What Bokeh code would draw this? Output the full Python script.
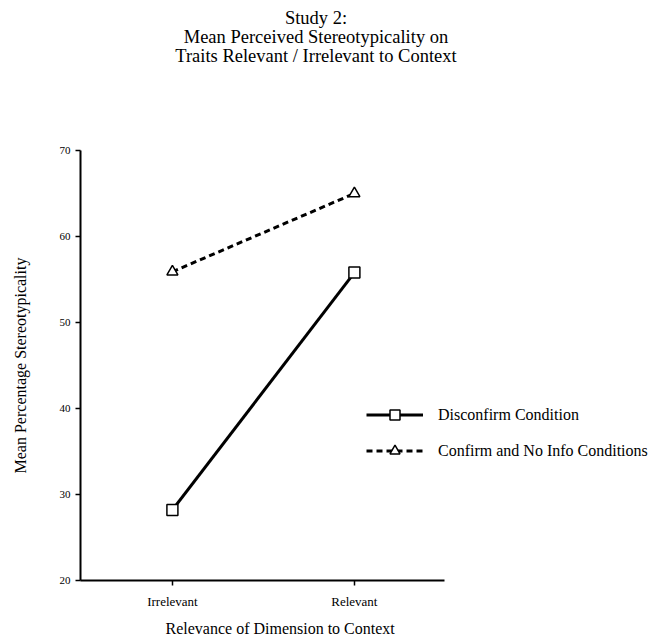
from bokeh.plotting import figure
from bokeh.models import Range1d, FixedTicker, Legend, LegendItem, Title, Div
from bokeh.layouts import column
from bokeh.embed import file_html
from bokeh.resources import INLINE

# ---- data ----
categories = ["Irrelevant", "Relevant"]
disconfirm = [28.2, 55.8]
confirm_noinfo = [55.9, 65.0]
y_ticks = [20, 30, 40, 50, 60, 70]
series_names = ["Disconfirm Condition", "Confirm and No Info Conditions"]
title_lines = ["Study 2:",
               "Mean Perceived Stereotypicality on",
               "Traits Relevant / Irrelevant to Context"]
x_title = "Relevance of Dimension to Context"
y_title = "Mean Percentage Stereotypicality"

FONT = "Liberation Serif"

# category positions on the x scale (one unit apart)
x_pos = list(range(len(categories)))

title_div = Div(
    text=('<div style="text-align:center;font-family:\'Liberation Serif\';'
          'font-size:18.5px;line-height:19px;color:black;width:632px;'
          'padding-top:9px;">'
          + "<br>".join(title_lines) + "</div>"),
    width=632, height=74, margin=0)

p = figure(x_range=Range1d(-0.505, 2.649), y_range=Range1d(20, 70),
           frame_width=574, frame_height=430,
           min_border_left=80, min_border_right=0, min_border_top=76,
           min_border_bottom=0,
           output_backend="svg", toolbar_location=None)

p.grid.visible = False
p.outline_line_color = None

for ax in (p.xaxis[0], p.yaxis[0]):
    ax.axis_line_width = 2
    ax.axis_line_color = "black"
    ax.major_tick_line_color = "black"
    ax.major_tick_line_width = 1.5
    ax.major_tick_in = 0
    ax.major_tick_out = 5
    ax.minor_tick_line_color = None
    ax.major_label_text_font = FONT
    ax.major_label_text_color = "black"
    ax.axis_label_text_font = FONT
    ax.axis_label_text_font_style = "normal"
    ax.axis_label_text_color = "black"
    ax.axis_label_text_font_size = "16px"

p.xaxis.ticker = FixedTicker(ticks=x_pos)
p.xaxis.major_label_overrides = {i: c for i, c in zip(x_pos, categories)}
p.xaxis.bounds = (-0.505, 1.495)
p.xaxis.major_label_text_font_size = "13px"
p.xaxis.major_label_standoff = 8

p.yaxis.axis_label = y_title
p.yaxis.ticker = FixedTicker(ticks=y_ticks)
p.yaxis.bounds = (20, 70)
p.yaxis.major_label_text_font_size = "11px"
p.yaxis.major_label_standoff = 5
p.yaxis.axis_label_standoff = 28

p.add_layout(Title(text=x_title, align="left", offset=85, standoff=12,
                   text_font=FONT, text_font_size="16px",
                   text_font_style="normal", text_color="black"), "below")

# series
l1 = p.line(x_pos, disconfirm, line_color="black", line_width=3)
l2 = p.line(x_pos, confirm_noinfo, line_color="black", line_width=3,
            line_dash="6 4")
s1 = p.scatter(x_pos, disconfirm, marker="square", size=11,
               fill_color="white", line_color="black", line_width=1.5)
s2 = p.scatter(x_pos, confirm_noinfo, marker="triangle", size=11,
               fill_color="white", line_color="black", line_width=1.5)

legend = Legend(items=[LegendItem(label=series_names[0], renderers=[l1, s1]),
                       LegendItem(label=series_names[1], renderers=[l2, s2])],
                location=(286, 117), glyph_width=57, glyph_height=25,
                label_height=20, spacing=11, label_standoff=15,
                padding=0, margin=0, border_line_alpha=0,
                background_fill_alpha=0,
                label_text_font=FONT, label_text_font_size="16px",
                label_text_color="black")
p.add_layout(legend)

layout = column(title_div, p, spacing=0)
open("out.html", "w").write(file_html(layout, INLINE))
